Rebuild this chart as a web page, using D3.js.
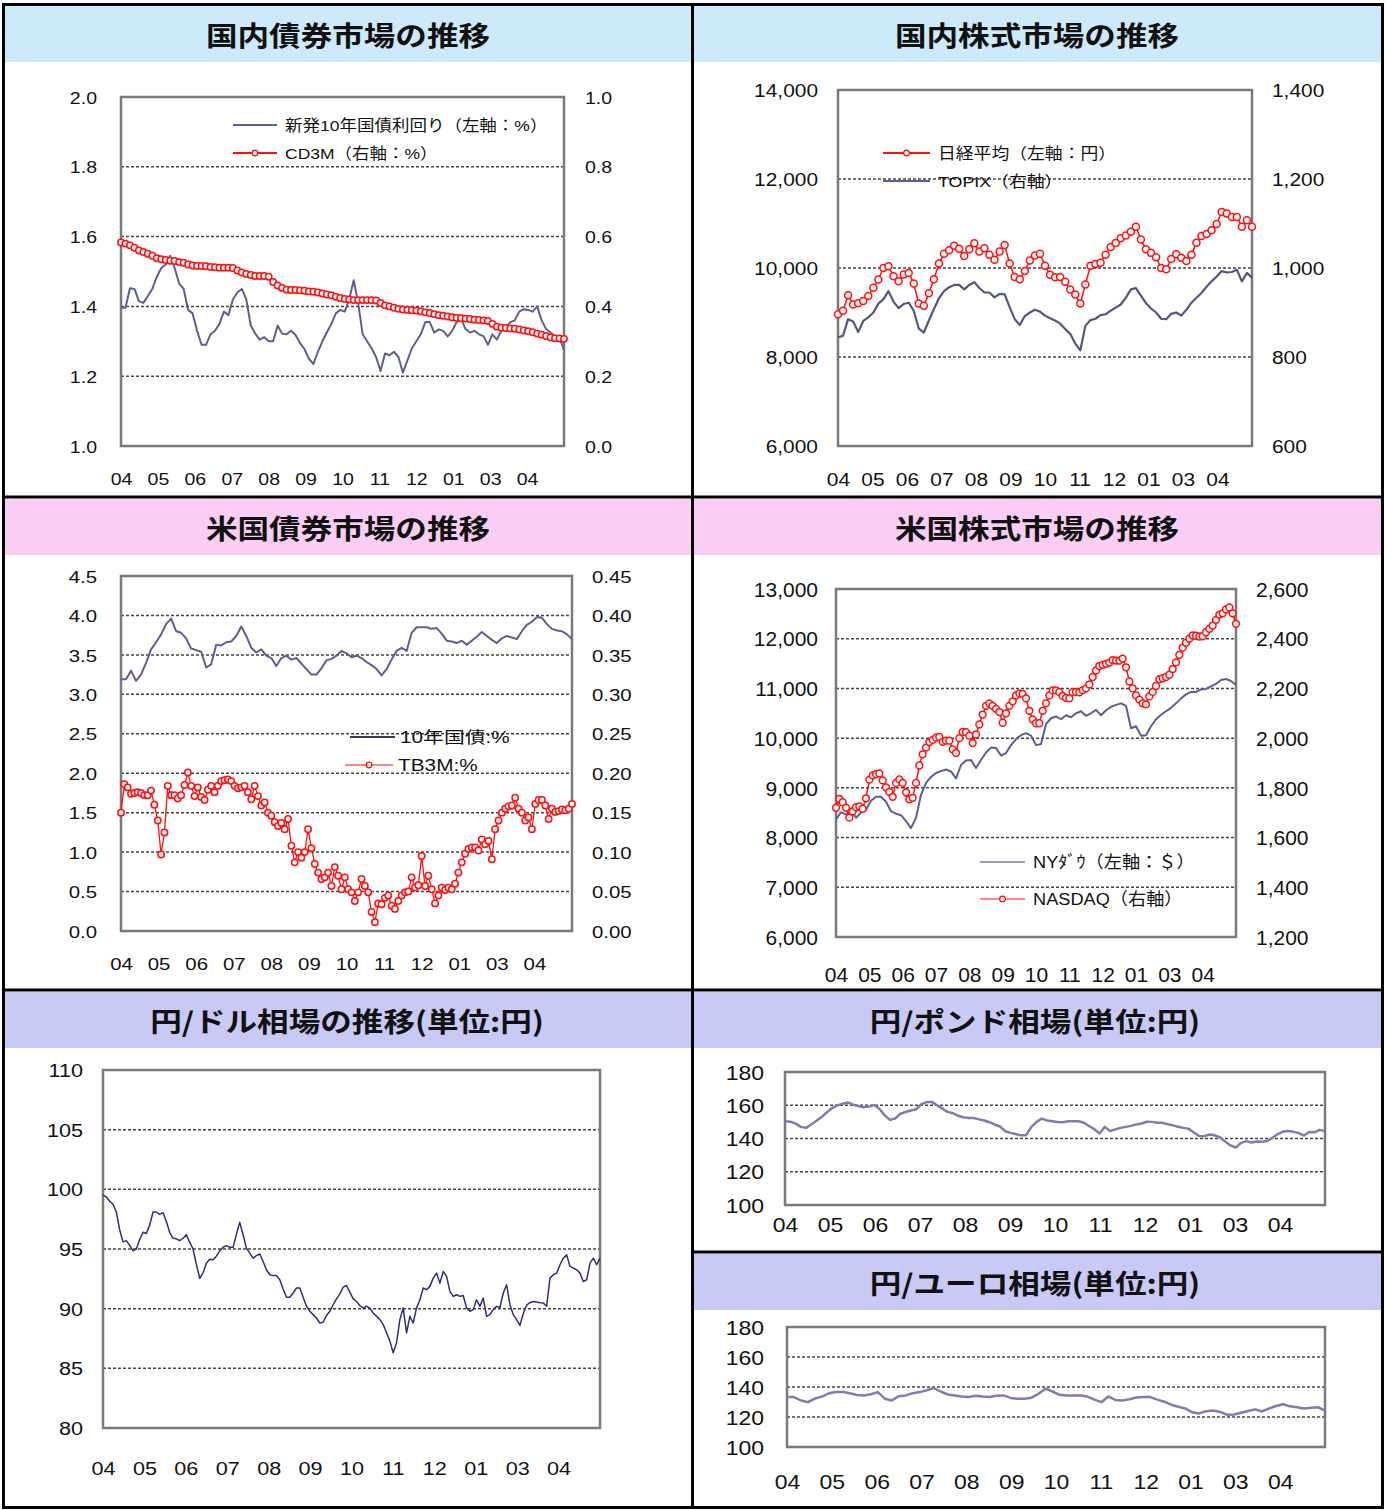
<!DOCTYPE html>
<html><head><meta charset="utf-8">
<script src="https://cdn.jsdelivr.net/npm/d3@7"></script>
<style>body{margin:0;background:#fff;} svg{display:block;}</style>
</head><body>
<svg id="c" width="1386" height="1510"></svg>
<script>
// ---------------- DATA ----------------
const monthLabels = ["04","05","06","07","08","09","10","11","12","01","03","04"];

const titles = ["国内債券市場の推移","国内株式市場の推移","米国債券市場の推移","米国株式市場の推移",
  "円/ドル相場の推移(単位:円)","円/ポンド相場(単位:円)","円/ユーロ相場(単位:円)"];

// 国内債券: 新発10年国債利回り (左軸 %), CD3M (右軸 %)
const jgb10y = [1.396,1.396,1.452,1.450,1.415,1.41,1.43,1.45,1.485,1.51,
1.52,1.545,1.51,1.465,1.45,1.39,1.38,1.33,1.29,1.29,
1.32,1.33,1.35,1.385,1.375,1.42,1.44,1.45,1.42,1.345,
1.322,1.305,1.312,1.30,1.30,1.345,1.322,1.32,1.33,1.318,
1.295,1.278,1.25,1.235,1.27,1.30,1.325,1.35,1.38,1.39,
1.385,1.42,1.475,1.41,1.32,1.30,1.28,1.255,1.215,1.265,
1.26,1.27,1.255,1.21,1.245,1.28,1.30,1.32,1.355,1.355,
1.325,1.334,1.33,1.314,1.33,1.355,1.365,1.335,1.325,1.33,
1.32,1.315,1.29,1.32,1.305,1.33,1.34,1.355,1.36,1.385,
1.392,1.39,1.385,1.40,1.36,1.335,1.325,1.314,1.31,1.275];
const cd3m = [0.583,0.58,0.575,0.568,0.56,0.556,0.551,0.545,0.538,0.535,
0.533,0.531,0.53,0.527,0.525,0.52,0.517,0.516,0.516,0.515,
0.513,0.512,0.511,0.511,0.511,0.51,0.503,0.497,0.493,0.49,
0.487,0.487,0.487,0.485,0.47,0.46,0.453,0.448,0.447,0.447,
0.446,0.445,0.443,0.442,0.44,0.437,0.434,0.432,0.428,0.424,
0.421,0.42,0.418,0.418,0.418,0.418,0.418,0.417,0.41,0.403,
0.40,0.396,0.393,0.391,0.39,0.389,0.388,0.386,0.383,0.381,
0.378,0.375,0.373,0.371,0.369,0.367,0.366,0.365,0.364,0.362,
0.361,0.36,0.358,0.35,0.342,0.339,0.338,0.337,0.336,0.334,
0.331,0.329,0.326,0.322,0.319,0.315,0.311,0.309,0.308,0.307];

// 国内株式: 日経平均 (左軸 円), TOPIX (右軸)
const nikkei = [8963,9037,9390,9180,9210,9259,9370,9555,9740,10000,
10040,9815,9700,9852,9889,9650,9200,9150,9430,9750,
10100,10320,10400,10500,10430,10270,10420,10555,10370,10444,
10296,10185,10370,10518,10100,9800,9750,9930,10170,10280,
10320,10050,9850,9790,9800,9690,9518,9407,9200,9630,
10050,10090,10120,10300,10470,10560,10670,10730,10815,10926,
10640,10420,10340,10240,10000,9970,10200,10310,10230,10160,
10300,10570,10720,10765,10850,10990,11259,11222,11148,11148,
10926,11074,10926];
const topix = [844,848,885,880,856,881,889,900,920,930,
948,924,910,919,922,904,864,855,882,908,
932,948,957,962,962,952,962,968,955,945,
945,934,942,941,912,885,872,892,900,906,
902,893,887,882,875,863,852,830,815,870,
883,886,894,896,904,911,918,933,952,955,
938,921,909,900,886,885,897,900,893,906,
922,933,944,958,970,981,993,990,991,996,
970,989,978];

// 米国債券: 10年国債 (左軸 %), TB3M (右軸 %)
const ust10y = [3.19,3.19,3.30,3.17,3.25,3.40,3.57,3.66,3.76,3.89,
3.96,3.80,3.78,3.71,3.58,3.56,3.54,3.34,3.38,3.63,
3.62,3.66,3.67,3.74,3.86,3.74,3.59,3.53,3.57,3.49,
3.46,3.36,3.46,3.49,3.44,3.46,3.39,3.32,3.25,3.25,
3.33,3.43,3.45,3.49,3.55,3.52,3.47,3.49,3.46,3.41,
3.37,3.32,3.24,3.32,3.44,3.55,3.59,3.55,3.78,3.85,
3.85,3.85,3.83,3.84,3.77,3.68,3.67,3.65,3.68,3.63,
3.68,3.73,3.79,3.74,3.69,3.65,3.71,3.74,3.72,3.70,
3.80,3.88,3.92,3.98,3.97,3.89,3.83,3.81,3.80,3.76,
3.70];
const tb3m = [0.150,0.186,0.182,0.174,0.175,0.176,0.175,0.172,0.172,0.178,
0.160,0.140,0.097,0.125,0.184,0.172,0.172,0.168,0.172,0.185,
0.201,0.184,0.171,0.182,0.170,0.166,0.179,0.184,0.176,0.184,
0.190,0.191,0.192,0.190,0.184,0.181,0.182,0.184,0.176,0.167,
0.184,0.171,0.159,0.163,0.150,0.146,0.138,0.133,0.137,0.129,
0.142,0.108,0.087,0.100,0.093,0.100,0.129,0.105,0.085,0.074,
0.066,0.068,0.074,0.057,0.081,0.070,0.053,0.068,0.053,0.049,
0.038,0.049,0.066,0.057,0.049,0.024,0.011,0.035,0.034,0.042,
0.045,0.032,0.028,0.038,0.045,0.049,0.050,0.068,0.055,0.058,
0.095,0.057,0.070,0.053,0.035,0.045,0.055,0.052,0.055,0.053,
0.060,0.074,0.087,0.098,0.104,0.106,0.106,0.102,0.116,0.110,
0.114,0.091,0.129,0.140,0.150,0.155,0.158,0.159,0.169,0.155,
0.150,0.140,0.144,0.129,0.161,0.166,0.166,0.159,0.142,0.155,
0.151,0.152,0.154,0.153,0.155,0.161];

// 米国株式: NYダウ (左軸 $), NASDAQ (右軸)
const nyDow = [8367,8510,8460,8540,8400,8500,8560,8740,8820,8820,
8720,8530,8480,8450,8330,8190,8400,8860,9100,9220,
9300,9337,9370,9330,9190,9460,9550,9560,9400,9560,
9710,9810,9800,9650,9700,9860,9980,10060,10100,10050,
9860,9880,10280,10400,10436,10380,10460,10420,10500,10540,
10450,10500,10570,10460,10560,10630,10670,10700,10650,10200,
10240,10050,10060,10240,10380,10470,10540,10610,10700,10800,
10880,10930,10930,10980,10990,11040,11090,11170,11190,11150,
11070];
const nasdaq = [1720,1756,1742,1720,1680,1705,1722,1725,1716,1758,
1833,1850,1855,1858,1830,1802,1784,1764,1820,1834,
1820,1782,1754,1760,1820,1890,1935,1962,1984,1993,
2002,2005,1985,1990,1990,1955,1940,2000,2025,2024,
2010,1980,2015,2055,2095,2130,2140,2130,2118,2105,
2062,2100,2130,2148,2172,2180,2178,2160,2110,2075,
2060,2060,2110,2140,2172,2192,2192,2185,2170,2162,
2160,2185,2186,2184,2193,2200,2216,2246,2272,2290,
2295,2299,2304,2314,2312,2312,2320,2285,2228,2200,
2172,2155,2140,2136,2168,2186,2210,2237,2241,2246,
2255,2278,2305,2335,2364,2384,2400,2413,2412,2409,
2410,2426,2440,2453,2476,2497,2502,2518,2526,2502,
2460];

// 為替 (円)
const usdJpy = [99.53,99.35,99.0,98.75,98.1,96.6,95.6,95.7,95.3,94.85,
95.0,95.8,96.4,96.3,97.0,98.1,98.1,97.9,98.05,97.3,
96.4,95.9,95.85,95.7,95.9,96.2,95.55,95.0,93.7,92.55,
93.0,93.8,94.15,94.1,94.4,94.86,95.15,95.28,95.14,95.14,
96.25,97.23,96.2,95.07,94.65,94.23,94.44,94.58,93.95,93.26,
92.84,92.77,92.77,92.42,91.65,90.96,90.96,91.31,91.73,91.73,
90.96,90.2,89.78,89.5,89.22,88.8,88.87,89.43,89.78,90.33,
90.82,91.24,91.8,91.94,91.38,90.82,90.61,90.26,90.06,90.2,
90.05,89.64,89.36,89.08,88.66,88.0,87.3,86.3,87.13,89.08,
90.06,87.97,89.36,88.8,90.06,90.75,91.73,91.59,91.87,92.56,
92.98,92.14,93.12,92.70,91.45,91.03,91.17,91.03,91.1,90.06,
89.78,89.92,90.75,90.19,90.89,89.36,89.50,89.92,90.19,90.1,
91.31,92.01,90.33,89.50,89.08,88.6,89.6,90.3,90.5,90.6,
90.55,90.5,90.47,90.2,92.56,92.84,92.98,93.68,94.23,94.51,
93.54,93.40,93.26,92.98,92.28,92.42,93.82,94.23,93.68,94.23];
const gbpJpy = [150.4,150.1,149.1,147.0,146.4,148.4,150.7,153.0,155.8,158.3,
159.9,160.9,161.7,160.3,159.5,158.8,159.2,160.1,157.9,154.0,
151.2,152.0,154.9,155.9,156.8,157.6,160.6,161.9,162.0,160.0,
158.0,156.0,155.2,153.7,152.8,152.4,152.3,151.5,150.8,149.8,
148.3,147.2,144.4,143.4,142.7,141.9,142.0,147.0,150.0,152.0,
150.8,150.4,149.9,149.8,150.4,150.4,150.4,149.5,147.5,145.6,
143.0,147.0,144.5,145.5,146.4,147.0,147.6,148.4,149.0,150.1,
150.0,149.5,149.4,148.6,147.9,147.1,146.4,145.8,143.6,141.5,
141.4,142.4,141.9,140.6,138.1,135.8,134.6,137.4,138.4,137.6,
138.2,138.0,138.5,140.5,142.7,144.2,144.5,144.0,143.3,141.8,
143.9,143.7,145.2,144.5];
const eurJpy = [133.3,133.3,131.0,129.9,132.3,133.6,135.8,136.6,136.6,135.8,
134.7,134.4,135.2,136.6,132.2,131.0,133.9,134.4,135.9,136.6,
137.8,139.3,137.0,135.0,134.4,133.6,133.3,134.1,133.6,133.3,
134.1,134.4,132.7,132.1,132.1,132.9,135.5,138.9,137.0,134.8,
134.4,134.4,134.4,133.6,131.6,129.9,133.6,131.4,131.0,131.8,
133.0,133.3,133.3,131.6,130.2,128.2,126.8,125.7,123.1,122.4,
123.9,124.3,123.4,121.5,121.7,122.8,124.0,125.1,123.7,125.7,
127.3,128.5,127.1,126.5,125.7,126.2,126.5,124.3];

// tick values
const ticksP1L = [1.0,1.2,1.4,1.6,1.8,2.0], ticksP1R = [0,0.2,0.4,0.6,0.8,1.0];
const ticksP2L = [6000,8000,10000,12000,14000], ticksP2R = [600,800,1000,1200,1400];
const ticksP3L = [0,0.5,1,1.5,2,2.5,3,3.5,4,4.5], ticksP3R = [0,0.05,0.1,0.15,0.2,0.25,0.3,0.35,0.4,0.45];
const ticksP4L = [6000,7000,8000,9000,10000,11000,12000,13000], ticksP4R = [1200,1400,1600,1800,2000,2200,2400,2600];
const ticksP5 = [80,85,90,95,100,105,110];
const ticksFx = [100,120,140,160,180];

const legendTexts = {
  p1: ["新発10年国債利回り（左軸：%）","CD3M（右軸：%）"],
  p2: ["日経平均（左軸：円）","TOPIX（右軸）"],
  p3: ["10年国債:%","TB3M:%"],
  p4: ["NYﾀﾞｳ（左軸：＄）","NASDAQ（右軸）"]
};

// ---------------- DRAW ----------------
const svg = d3.select('#c');
const LAT = "'Liberation Sans', Arial, 'Noto Sans CJK JP', sans-serif";
const JP = "'Noto Sans CJK JP', sans-serif";
const BLUE = '#5c6090', RED = '#ff1010', NAVY = '#2e2f7a', SLATE = '#7c7fae';

svg.append('rect').attr('width',1386).attr('height',1510).attr('fill','#fff');

function T(parent, x, y, str, o) {
  return parent.append('text')
    .attr('transform', `translate(${x},${y}) scale(${o.sx||1},1)`)
    .attr('text-anchor', o.anchor || 'start')
    .attr('dy', '0.36em')
    .style('font-size', o.size + 'px')
    .style('font-family', o.family || LAT)
    .style('font-weight', o.weight || 'normal')
    .attr('fill', o.fill || '#111')
    .text(str);
}

// title bands
const bands = [
  {x:5,y:6,w:687,h:56,c:'#cdeafa',cx:348,t:0},
  {x:694,y:6,w:688,h:56,c:'#cdeafa',cx:1037,t:1},
  {x:5,y:499,w:687,h:56,c:'#facdf5',cx:348,t:2},
  {x:694,y:499,w:688,h:56,c:'#facdf5',cx:1037,t:3},
  {x:5,y:992,w:687,h:56,c:'#c9c9f6',cx:347,t:4},
  {x:694,y:992,w:688,h:56,c:'#c9c9f6',cx:1035,t:5},
  {x:694,y:1254,w:688,h:56,c:'#c9c9f6',cx:1035,t:6}
];
bands.forEach(b => {
  svg.append('rect').attr('x',b.x).attr('y',b.y).attr('width',b.w).attr('height',b.h).attr('fill',b.c);
  T(svg, b.cx, b.y + 30, titles[b.t], {size:27, sx:1.17, anchor:'middle', family:JP, weight:'bold'});
});

function styleAxis(sel, kind, off, font, sx) {
  sel.select('.domain').remove();
  sel.selectAll('.tick line').remove();
  sel.selectAll('text')
    .attr('x', null).attr('y', null).attr('dy', '0.36em')
    .attr('transform', kind === 'left' ? `translate(${-off},0) scale(${sx},1)`
                     : kind === 'right' ? `translate(${off},0) scale(${sx},1)`
                     : `translate(0,${off}) scale(${sx},1)`)
    .style('font-size', font + 'px').style('font-family', LAT).attr('fill', '#111');
}

function drawPanel(p) {
  const g = svg.append('g');
  const P = p.plot;
  const x = d3.scaleLinear().domain([0, 12]).range([P.x0, P.x1]);
  const yL = d3.scaleLinear().domain(p.left.domain).range([P.y1, P.y0]);
  const yR = p.right ? d3.scaleLinear().domain(p.right.domain).range([P.y1, P.y0]) : null;

  g.selectAll('line.grid').data(p.grid).join('line')
    .attr('x1', P.x0).attr('x2', P.x1).attr('y1', d => yL(d)).attr('y2', d => yL(d))
    .attr('stroke', '#444').attr('stroke-width', 1.5).attr('stroke-dasharray', '3,2');

  g.append('rect').attr('x', P.x0).attr('y', P.y0).attr('width', P.x1 - P.x0).attr('height', P.y1 - P.y0)
    .attr('fill', 'none').attr('stroke', '#7a7a7a').attr('stroke-width', 2.5);

  const aL = g.append('g').attr('transform', `translate(${P.x0},0)`)
    .call(d3.axisLeft(yL).tickValues(p.left.ticks).tickFormat(p.left.fmt).tickSize(0).tickPadding(0));
  styleAxis(aL, 'left', p.left.off, p.font, p.sx);
  if (yR) {
    const aR = g.append('g').attr('transform', `translate(${P.x1},0)`)
      .call(d3.axisRight(yR).tickValues(p.right.ticks).tickFormat(p.right.fmt).tickSize(0).tickPadding(0));
    styleAxis(aR, 'right', p.right.off, p.font, p.sx);
  }
  const aB = g.append('g').attr('transform', `translate(0,${P.y1})`)
    .call(d3.axisBottom(x).tickValues(d3.range(monthLabels.length)).tickFormat(i => monthLabels[i]).tickSize(0).tickPadding(0));
  styleAxis(aB, 'bottom', p.xOff, p.font, p.sx);

  p.series.forEach(s => {
    const ys = s.axis === 'right' ? yR : yL;
    const n = s.data.length;
    const xi = i => x(i * 12 / (n - 1));
    g.append('path').datum(s.data)
      .attr('d', d3.line().x((d, i) => xi(i)).y(d => ys(d)))
      .attr('fill', 'none').attr('stroke', s.color).attr('stroke-width', s.width).attr('stroke-linejoin', 'round');
    if (s.marker) {
      g.selectAll(null).data(s.data).join('circle')
        .attr('cx', (d, i) => xi(i)).attr('cy', d => ys(d)).attr('r', s.r || 3)
        .attr('fill', '#fff3f3').attr('stroke', s.color).attr('stroke-width', 1.5);
    }
  });

  (p.legend || []).forEach((l, k) => {
    g.append('line').attr('x1', l.x0).attr('x2', l.x1).attr('y1', l.y).attr('y2', l.y)
      .attr('stroke', l.color).attr('stroke-width', l.w || 1.8);
    if (l.marker) g.append('circle').attr('cx', (l.x0 + l.x1) / 2).attr('cy', l.y).attr('r', 2.8)
      .attr('fill', '#fff').attr('stroke', l.color).attr('stroke-width', 1.3);
    T(g, l.tx, l.y, p.legendText[k], {size: p.legFont, sx: p.legSx});
  });
}

const f1 = d3.format('.1f'), f2 = d3.format('.2f'), fc = d3.format(','), fd = d3.format('d');

drawPanel({
  plot:{x0:121,x1:564,y0:97,y1:446}, font:17, sx:1.15, xOff:33,
  left:{domain:[1,2], ticks:ticksP1L, fmt:f1, off:24},
  right:{domain:[0,1], ticks:ticksP1R, fmt:f1, off:21},
  grid:[1.2,1.4,1.6,1.8],
  series:[{data:jgb10y,axis:'left',color:BLUE,width:2},{data:cd3m,axis:'right',color:RED,width:1.5,marker:true,r:3.2}],
  legendText:legendTexts.p1, legFont:15.5, legSx:1.13,
  legend:[{x0:233,x1:277,y:125,color:BLUE,tx:285},{x0:233,x1:277,y:153,color:RED,marker:true,tx:285}]
});
drawPanel({
  plot:{x0:838,x1:1252,y0:90,y1:446}, font:19, sx:1.1, xOff:33,
  left:{domain:[6000,14000], ticks:ticksP2L, fmt:fc, off:20},
  right:{domain:[600,1400], ticks:ticksP2R, fmt:fc, off:20},
  grid:[8000,10000,12000],
  series:[{data:nikkei,axis:'left',color:RED,width:1.5,marker:true,r:3.5},{data:topix,axis:'right',color:'#535784',width:2.2}],
  legendText:legendTexts.p2, legFont:15.5, legSx:1.15,
  legend:[{x0:883,x1:930,y:153,color:RED,marker:true,tx:938},{x0:883,x1:930,y:181,color:BLUE,tx:938}]
});
drawPanel({
  plot:{x0:121,x1:572,y0:576,y1:931}, font:17, sx:1.2, xOff:33,
  left:{domain:[0,4.5], ticks:ticksP3L, fmt:f1, off:24},
  right:{domain:[0,0.45], ticks:ticksP3R, fmt:f2, off:20},
  grid:[0.5,1,1.5,2,2.5,3,3.5,4],
  series:[{data:ust10y,axis:'left',color:BLUE,width:2},{data:tb3m,axis:'right',color:RED,width:1.3,marker:true,r:3.2}],
  legendText:legendTexts.p3, legFont:16, legSx:1.3,
  legend:[{x0:350,x1:395,y:737,color:'#3a3a50',tx:400},{x0:345,x1:393,y:765,color:RED,marker:true,w:1.2,tx:398}]
});
drawPanel({
  plot:{x0:836,x1:1236,y0:589,y1:937}, font:20, sx:1.05, xOff:38,
  left:{domain:[6000,13000], ticks:ticksP4L, fmt:fc, off:18},
  right:{domain:[1200,2600], ticks:ticksP4R, fmt:fc, off:20},
  grid:[7000,8000,9000,10000,11000,12000],
  series:[{data:nyDow,axis:'left',color:BLUE,width:2},{data:nasdaq,axis:'right',color:RED,width:1.5,marker:true,r:3.4}],
  legendText:legendTexts.p4, legFont:17, legSx:1.07,
  legend:[{x0:980,x1:1025,y:862,color:'#9a9cc0',tx:1033},{x0:980,x1:1025,y:899,color:RED,marker:true,w:1.2,tx:1033}]
});
drawPanel({
  plot:{x0:103,x1:600,y0:1070,y1:1428}, font:18.5, sx:1.17, xOff:40,
  left:{domain:[80,110], ticks:ticksP5, fmt:fd, off:20},
  grid:[85,90,95,100,105],
  series:[{data:usdJpy,axis:'left',color:NAVY,width:1.5}]
});
drawPanel({
  plot:{x0:785,x1:1325,y0:1072,y1:1205}, font:20, sx:1.15, xOff:20,
  left:{domain:[100,180], ticks:ticksFx, fmt:fd, off:21},
  grid:[120,140,160],
  series:[{data:gbpJpy,axis:'left',color:SLATE,width:2.5}]
});
drawPanel({
  plot:{x0:787,x1:1325,y0:1327,y1:1447}, font:20, sx:1.15, xOff:35,
  left:{domain:[100,180], ticks:ticksFx, fmt:fd, off:23},
  grid:[120,140,160],
  series:[{data:eurJpy,axis:'left',color:SLATE,width:2.5}]
});

// frame and dividers
const fr = svg.append('g').attr('stroke','#000').attr('fill','none');
fr.append('rect').attr('x',3.5).attr('y',4.5).attr('width',1379).attr('height',1503).attr('stroke-width',3);
fr.append('line').attr('x1',692.5).attr('x2',692.5).attr('y1',4).attr('y2',1508).attr('stroke-width',3);
fr.append('line').attr('x1',3).attr('x2',1383).attr('y1',497).attr('y2',497).attr('stroke-width',3);
fr.append('line').attr('x1',3).attr('x2',1383).attr('y1',990).attr('y2',990).attr('stroke-width',3);
fr.append('line').attr('x1',692).attr('x2',1383).attr('y1',1252).attr('y2',1252).attr('stroke-width',3);
</script>
</body></html>
